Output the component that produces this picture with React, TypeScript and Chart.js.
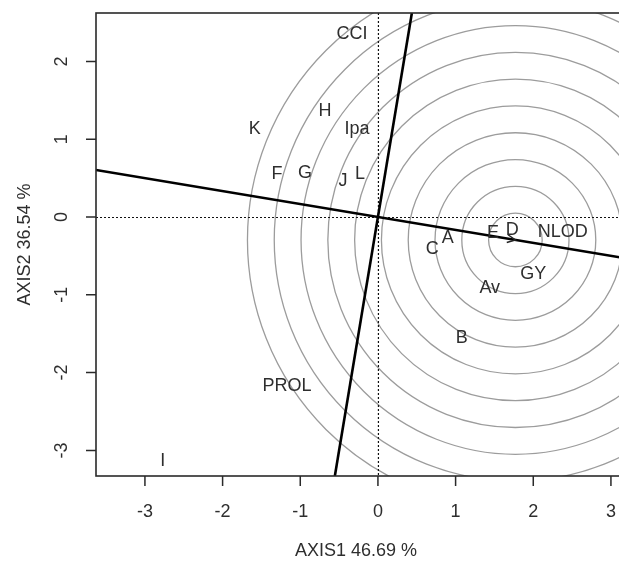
import React, { useEffect, useRef } from "react";
import { Chart, registerables } from "chart.js";

Chart.register(...registerables);

// ---- data ----
const labels = ["CCI", "H", "K", "Ipa", "F", "G", "J", "L", "C", "A", "E", "D", "NLOD", "GY", "Av", "B", "PROL", "I"];
const xValues = [-0.335, -0.68, -1.585, -0.27, -1.3, -0.94, -0.45, -0.23, 0.7, 0.9, 1.48, 1.73, 2.38, 2.0, 1.44, 1.08, -1.17, -2.77];
const yValues = [2.37, 1.375, 1.14, 1.14, 0.57, 0.58, 0.475, 0.565, -0.4, -0.26, -0.19, -0.155, -0.18, -0.72, -0.9, -1.54, -2.16, -3.12];
const xTicks = [-3, -2, -1, 0, 1, 2, 3];
const yTicks = [-3, -2, -1, 0, 1, 2];
const idealPoint = [1.77, -0.295];
const circleStep = 0.345;
const circleCount = 10;
const xLimits = [-3.63, 3.4];
const yLimits = [-3.329, 2.622];
const xTitle = "AXIS1 46.69 %";
const yTitle = "AXIS2 36.54 %";

const FONT = '"Liberation Sans", Arial, Helvetica, sans-serif';
const TEXT = "#2e2e2e";

const slope = idealPoint[1] / idealPoint[0];
const aeaLine = [
  { x: xLimits[0], y: slope * xLimits[0] },
  { x: xLimits[1], y: slope * xLimits[1] },
];
const perpK = -slope; // x = perpK * y
const perpLine = [
  { x: perpK * yLimits[0], y: yLimits[0] },
  { x: perpK * yLimits[1], y: yLimits[1] },
];

const biplotPlugin = {
  id: "biplot",
  beforeDatasetsDraw(chart: any) {
    const { ctx, chartArea: a, scales } = chart;
    const xs = scales.x;
    const ys = scales.y;
    ctx.save();
    ctx.beginPath();
    ctx.rect(a.left, a.top, a.right - a.left, a.bottom - a.top);
    ctx.clip();
    // circles
    const cx = xs.getPixelForValue(idealPoint[0]);
    const cy = ys.getPixelForValue(idealPoint[1]);
    const unit = xs.getPixelForValue(1) - xs.getPixelForValue(0);
    ctx.strokeStyle = "#9c9c9c";
    ctx.lineWidth = 1.3;
    for (let k = 1; k <= circleCount; k++) {
      ctx.beginPath();
      ctx.arc(cx, cy, k * circleStep * unit, 0, Math.PI * 2);
      ctx.stroke();
    }
    // dotted axes
    ctx.strokeStyle = "#111";
    ctx.lineWidth = 1.2;
    ctx.setLineDash([2, 2]);
    const x0 = xs.getPixelForValue(0);
    const y0 = ys.getPixelForValue(0);
    ctx.beginPath();
    ctx.moveTo(x0 + 0.5, a.top);
    ctx.lineTo(x0 + 0.5, a.bottom);
    ctx.moveTo(a.left, y0 + 0.5);
    ctx.lineTo(a.right, y0 + 0.5);
    ctx.stroke();
    ctx.restore();
  },
  afterDatasetsDraw(chart: any) {
    const { ctx, chartArea: a, scales } = chart;
    const xs = scales.x;
    const ys = scales.y;
    ctx.save();
    // arrow at ideal point
    const cx = xs.getPixelForValue(idealPoint[0]);
    const cy = ys.getPixelForValue(idealPoint[1]);
    const ang = Math.atan2(
      ys.getPixelForValue(idealPoint[1]) - ys.getPixelForValue(0),
      xs.getPixelForValue(idealPoint[0]) - xs.getPixelForValue(0)
    );
    ctx.strokeStyle = "#222";
    ctx.lineWidth = 1.5;
    ctx.beginPath();
    const L = 9;
    ctx.moveTo(cx - L * Math.cos(ang - 0.45), cy - L * Math.sin(ang - 0.45));
    ctx.lineTo(cx, cy);
    ctx.lineTo(cx - L * Math.cos(ang + 0.45), cy - L * Math.sin(ang + 0.45));
    ctx.stroke();

    // labels
    ctx.fillStyle = TEXT;
    ctx.font = `18px ${FONT}`;
    ctx.textAlign = "center";
    ctx.textBaseline = "middle";
    const meta = chart.getDatasetMeta(0);
    meta.data.forEach((pt: any, i: number) => {
      ctx.fillText(labels[i], pt.x, pt.y + 1);
    });

    // frame
    ctx.strokeStyle = "#2a2a2a";
    ctx.lineWidth = 1.6;
    ctx.strokeRect(a.left, a.top, a.right - a.left, a.bottom - a.top);

    // ticks
    ctx.lineWidth = 1.5;
    ctx.beginPath();
    xTicks.forEach((t) => {
      const px = xs.getPixelForValue(t);
      ctx.moveTo(px, a.bottom);
      ctx.lineTo(px, a.bottom + 10);
    });
    yTicks.forEach((t) => {
      const py = ys.getPixelForValue(t);
      ctx.moveTo(a.left, py);
      ctx.lineTo(a.left - 10, py);
    });
    ctx.stroke();

    ctx.fillStyle = TEXT;
    ctx.font = `18px ${FONT}`;
    ctx.textAlign = "center";
    ctx.textBaseline = "middle";
    xTicks.forEach((t) => {
      ctx.fillText(String(t), xs.getPixelForValue(t), a.bottom + 36);
    });
    yTicks.forEach((t) => {
      ctx.save();
      ctx.translate(a.left - 34, ys.getPixelForValue(t));
      ctx.rotate(-Math.PI / 2);
      ctx.fillText(String(t), 0, 0);
      ctx.restore();
    });

    // titles
    ctx.fillText(xTitle, 356, a.bottom + 75);
    ctx.save();
    ctx.translate(25, (a.top + a.bottom) / 2);
    ctx.rotate(-Math.PI / 2);
    ctx.fillText(yTitle, 0, 0);
    ctx.restore();
    ctx.restore();
  },
};

export default function App() {
  const ref = useRef<HTMLCanvasElement | null>(null);
  useEffect(() => {
    if (!ref.current) return;
    const chart = new Chart(ref.current, {
      type: "scatter",
      data: {
        datasets: [
          {
            label: "genotypes",
            data: xValues.map((x, i) => ({ x, y: yValues[i] })),
            pointRadius: 0,
            showLine: false,
          },
          {
            label: "AEA",
            data: aeaLine,
            showLine: true,
            borderColor: "#000",
            borderWidth: 2.6,
            pointRadius: 0,
          },
          {
            label: "perp",
            data: perpLine,
            showLine: true,
            borderColor: "#000",
            borderWidth: 2.6,
            pointRadius: 0,
          },
        ],
      },
      options: {
        responsive: false,
        animation: false,
        layout: { padding: { left: 96, top: 13, right: 18, bottom: 88 } },
        plugins: { legend: { display: false }, tooltip: { enabled: false } },
        scales: {
          x: { type: "linear", min: xLimits[0], max: xLimits[1], display: false },
          y: { type: "linear", min: yLimits[0], max: yLimits[1], display: false },
        },
      },
      plugins: [biplotPlugin],
    });
    return () => chart.destroy();
  }, []);
  return (
    <div style={{ position: "fixed", left: 0, top: 0, width: 619, height: 564, overflow: "hidden", background: "#fff" }}>
      <canvas ref={ref} width={660} height={564} style={{ display: "block" }} />
    </div>
  );
}
